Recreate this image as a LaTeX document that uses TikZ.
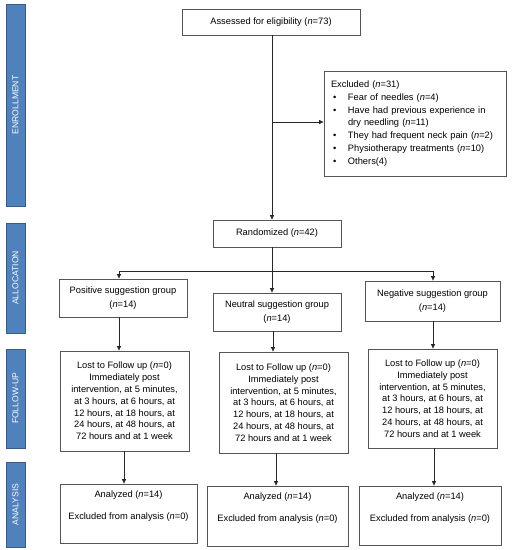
\documentclass[tikz,border=0pt]{standalone}
\usepackage{fontspec}
\setmainfont{Liberation Sans}
\usetikzlibrary{arrows.meta}
\definecolor{barblue}{HTML}{4F81BD}
\definecolor{bardark}{HTML}{385D8A}
\definecolor{boxline}{HTML}{555555}
\begin{document}
\begin{tikzpicture}[x=1pt,y=-1pt,
  box/.style={draw=boxline, line width=0.8pt, align=center, inner sep=2pt,
    font=\fontsize{9.3}{11.8}\selectfont},
  bar/.style={draw=bardark, line width=0.8pt, fill=barblue, minimum height=19pt,
    text=white, font=\fontsize{8.6}{10}\selectfont, rotate=90, inner sep=0pt},
  conn/.style={draw=black!85, line width=0.7pt},
  arr/.style={conn, -{Triangle[length=4.5pt,width=4pt]}},
  lbl/.style={align=center, inner sep=0pt, font=\fontsize{9.3}{11.8}\selectfont}
]
\useasboundingbox (0,0) rectangle (514,550);

% side bars
\node[bar, minimum width=202pt] (benr) at (15.5,105) {ENROLLMENT};
\node[bar, minimum width=110pt] (ball) at (15.5,278) {ALLOCATION};
\node[bar, minimum width=99pt]  (bfol) at (15.5,398.5) {FOLLOW-UP};
\node[bar, minimum width=85pt]  (bana) at (15.5,504.5) {ANALYSIS};

% boxes
\node[box, minimum width=178pt, minimum height=26pt] (assess) at (271,22)
  {Assessed for eligibility (\textit{n}=73)};
\node[box, minimum width=182pt, minimum height=105pt, text width=168pt, align=left,
  inner xsep=7pt, font=\fontsize{9.3}{12.9}\selectfont] (excl) at (415,123.5)
  {Excluded (\textit{n}=31)\\
   \hspace*{2pt}\makebox[15pt][l]{\textbullet}Fear of needles (\textit{n}=4)\\
   \hspace*{2pt}\makebox[15pt][l]{\textbullet}Have had previous experience in\\
   \hspace*{17pt}dry needling (\textit{n}=11)\\
   \hspace*{2pt}\makebox[15pt][l]{\textbullet}They had frequent neck pain (\textit{n}=2)\\
   \hspace*{2pt}\makebox[15pt][l]{\textbullet}Physiotherapy treatments (\textit{n}=10)\\
   \hspace*{2pt}\makebox[15pt][l]{\textbullet}Others(4)};
\node[box, minimum width=128pt, minimum height=27pt] (rand) at (277,233.5)
  {Randomized (\textit{n}=42)};

\node[box, minimum width=128pt, minimum height=38pt, font=\fontsize{9.3}{14}\selectfont] (pos) at (123,298)
  {Positive suggestion group\\(\textit{n}=14)};
\node[box, minimum width=128pt, minimum height=38pt, font=\fontsize{9.3}{14}\selectfont] (neu) at (277,312)
  {Neutral suggestion group\\(\textit{n}=14)};
\node[box, minimum width=135pt, minimum height=40pt, font=\fontsize{9.3}{14}\selectfont] (neg) at (432.5,301)
  {Negative suggestion group\\(\textit{n}=14)};

\newcommand{\futext}{Lost to Follow up (\textit{n}=0)\\Immediately post\\intervention, at 5 minutes,\\at 3 hours, at 6 hours, at\\12 hours, at 18 hours, at\\24 hours, at 48 hours, at\\72 hours and at 1 week}
\node[box, minimum width=129pt, minimum height=100pt] (fl) at (124.5,401) {\futext};
\node[box, minimum width=129pt, minimum height=101pt] (fm) at (283.5,402.5) {\futext};
\node[box, minimum width=129pt, minimum height=99pt]  (fr) at (432.5,398.5) {\futext};

\newcommand{\antext}{Analyzed (\textit{n}=14)\\[10pt]Excluded from analysis (\textit{n}=0)}
\node[box, minimum width=137pt, minimum height=59pt,
  label={[lbl, anchor=north, yshift=-7pt]north:\antext}] (al) at (128.5,513.5) {};
\node[box, minimum width=141pt, minimum height=60pt,
  label={[lbl, anchor=north, yshift=-7pt]north:\antext}] (am) at (277.5,516) {};
\node[box, minimum width=142pt, minimum height=59pt,
  label={[lbl, anchor=north, yshift=-7pt]north:\antext}] (ar) at (430,515.5) {};

% column coordinates
\coordinate (cx) at (272,0);
\coordinate (c1) at (119,0);
\coordinate (c1b) at (124,0);
\coordinate (c2) at (273,0);
\coordinate (c2b) at (276,0);
\coordinate (c3) at (433,0);
\coordinate (c3b) at (434,0);
\coordinate (exj) at (272,122);
\coordinate (split) at (272,271);

% connectors
\draw[arr] (assess.south -| cx) -- (rand.north -| cx);
\draw[arr] (exj) -- (exj -| excl.west);
\draw[conn] (rand.south -| cx) -- (split);
\draw[arr] (split) -| (pos.north -| c1);
\draw[arr] (split) -| (neg.north -| c3);
\draw[arr] (split) -- (neu.north -| cx);

\draw[arr] (pos.south -| c1) -- (fl.north -| c1);
\draw[arr] (neu.south -| c2) -- (fm.north -| c2);
\draw[arr] (neg.south -| c3) -- (fr.north -| c3);

\draw[arr] (fl.south -| c1b) -- (al.north -| c1b);
\draw[arr] (fm.south -| c2b) -- (am.north -| c2b);
\draw[arr] (fr.south -| c3b) -- (ar.north -| c3b);
\end{tikzpicture}
\end{document}
